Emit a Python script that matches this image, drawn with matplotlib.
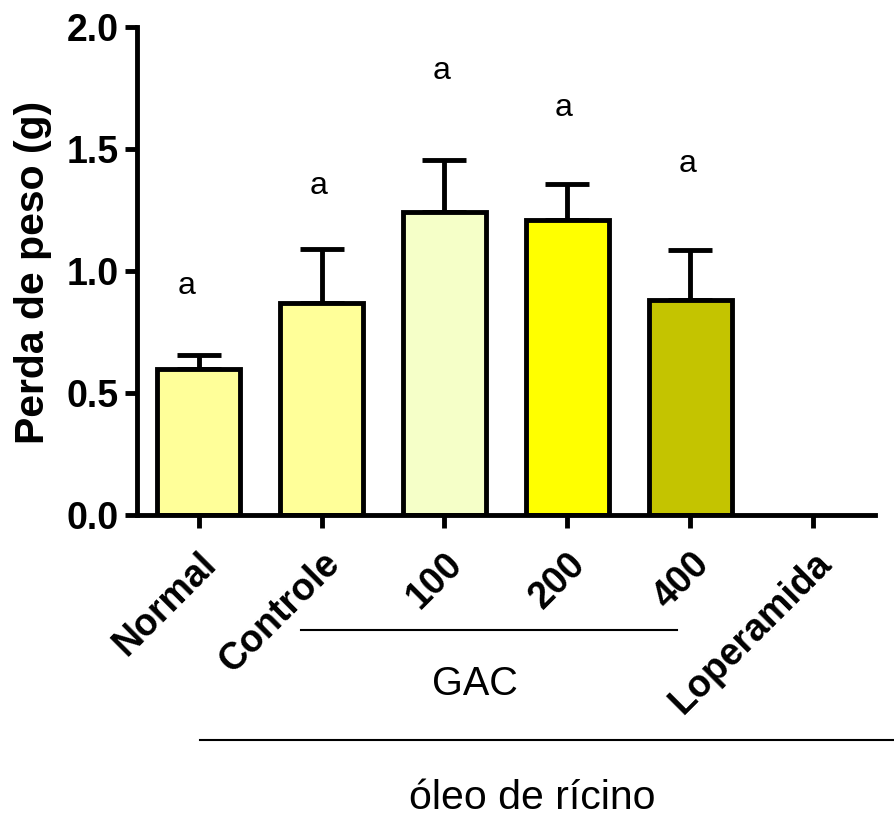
import matplotlib
matplotlib.use("Agg")
import matplotlib.pyplot as plt
from matplotlib.lines import Line2D
from matplotlib.transforms import blended_transform_factory
import numpy as np

plt.rcParams['font.family'] = ['Liberation Sans', 'DejaVu Sans']

# Data
groups = ["Normal", "Controle", "100", "200", "400", "Loperamida"]
means = [0.60, 0.87, 1.24, 1.21, 0.88, 0.0]
sems = [0.055, 0.22, 0.215, 0.145, 0.205, 0.0]
letters = ["a", "a", "a", "a", "a", ""]
colors = ["#FFFF99", "#FFFF99", "#F5FFC8", "#FFFF00", "#C4C400", "#FFFFFF"]

# Letter label placement (data y) and small x shift
letter_y = [0.94, 1.35, 1.82, 1.67, 1.44, 0.0]
letter_dx = [-0.1, -0.02, -0.02, -0.03, -0.02, 0.0]

fig = plt.figure(figsize=(8.95, 8.16), dpi=100)
W, H = 895, 816
ax = fig.add_axes([137 / W, 1 - 515 / H, (875 - 137) / W, (515 - 27) / H])

x = np.arange(len(groups))
has_bar = [m > 0 for m in means]
xb = x[has_bar]
mb = np.array(means)[has_bar]
sb = np.array(sems)[has_bar]
cb = [c for c, h in zip(colors, has_bar) if h]

ax.bar(xb, mb, width=0.67, color=cb, edgecolor="black", linewidth=3.5, zorder=2)
ax.errorbar(xb, mb, yerr=[np.zeros_like(sb), sb], fmt="none", ecolor="black",
            elinewidth=3.5, capsize=15.5, capthick=3.5, zorder=1)

for xi, ly, dx, t in zip(x, letter_y, letter_dx, letters):
    if t:
        ax.text(xi + dx, ly, t, ha="center", va="center", fontsize=23)

ax.set_xlim(-0.5, 5.5)
ax.set_ylim(0, 2.0)
ax.set_yticks([0.0, 0.5, 1.0, 1.5, 2.0])
ax.set_yticklabels(["0.0", "0.5", "1.0", "1.5", "2.0"], fontsize=27, fontweight="bold")
ax.set_xticks(x)
ax.set_xticklabels(groups, fontsize=27, fontweight="bold", rotation=45,
                   ha="right", va="top", rotation_mode="anchor")
ax.tick_params(axis="both", width=3.5, length=9, pad=4)
ax.tick_params(axis="x", pad=13)

for side in ["top", "right"]:
    ax.spines[side].set_visible(False)
for side in ["left", "bottom"]:
    ax.spines[side].set_linewidth(3.5)

fig.text(33 / W, 1 - 272 / H, "Perda de peso (g)", rotation=90, ha="center",
         va="center", fontsize=29.5, fontweight="bold")

# Group brackets below the axis
tr = blended_transform_factory(ax.transData, fig.transFigure)
fig.add_artist(Line2D([0.83, 3.89], [1 - 630 / H] * 2, transform=tr,
                      color="black", linewidth=1.5))
fig.text(475 / W, 1 - 684 / H, "GAC", ha="center", va="center", fontsize=28.5)
fig.add_artist(Line2D([200 / W, 1.0], [1 - 740 / H] * 2, transform=fig.transFigure,
                      color="black", linewidth=1.5))
fig.text(532 / W, 1 - 798 / H, "óleo de rícino", ha="center", va="center", fontsize=29.5)

fig.savefig("out.png", dpi=100)
